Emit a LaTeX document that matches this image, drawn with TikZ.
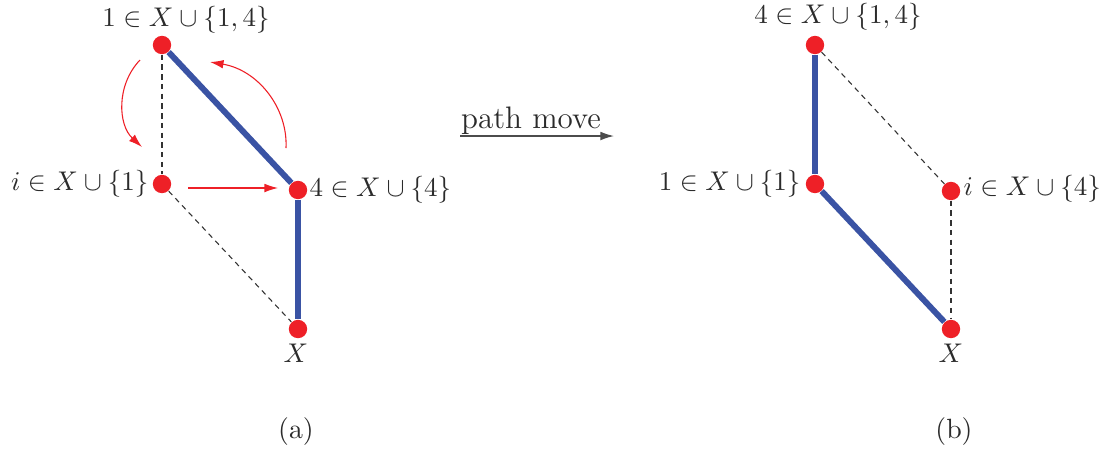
\documentclass[tikz,border=0pt]{standalone}
\usetikzlibrary{arrows.meta}
\definecolor{dotred}{HTML}{EE2027}
\definecolor{edgeblue}{HTML}{3A53A4}
\definecolor{txt}{HTML}{2B2B2B}
\tikzset{
  dot/.style={circle,fill=dotred,inner sep=0pt,minimum size=6.8pt},
  blueedge/.style={draw=edgeblue,line width=2.2pt},
  dashedge/.style={draw=black!80,line width=0.4pt,dash pattern=on 2pt off 1.6pt},
  redarrow/.style={draw=dotred,line width=0.4pt,-{Latex[length=5pt,width=3.2pt]}},
  lbl/.style={inner sep=0pt,text=txt,font=\fontsize{10.3}{12}\selectfont}
}
\begin{document}
\begin{tikzpicture}[x=0.37pt,y=-0.37pt]
\useasboundingbox (0,0) rectangle (1105,450);
% ---- left panel (a)
\node[dot] (aT) at (162,45) {};
\node[dot] (aI) at (162,184) {};
\node[dot] (aF) at (298,190) {};
\node[dot] (aX) at (298,329) {};
\draw[blueedge] (aT) -- (aF);
\draw[blueedge] (aF) -- (aX);
\draw[dashedge] (aT) -- (aI);
\draw[dashedge] (aI) -- (aX);
\node[lbl] (laT) at (186,20) {$1\in X\cup\{1,4\}$};
\node[lbl,anchor=east] (laI) at (149,184) {$i\in X\cup\{1\}$};
\node[lbl,anchor=west] (laF) at (309,190) {$4\in X\cup\{4\}$};
\node[lbl] (laX) at (296,353) {$X$};
\coordinate (r1s) at (140,60);
\coordinate (r1e) at (142,147);
\coordinate (r2s) at (286,148);
\coordinate (r2e) at (210,62);
\coordinate (r3s) at (188,188);
\coordinate (r3e) at (278,188);
\draw[redarrow] (r1s) .. controls (116,85) and (118,125) .. (r1e);
\draw[redarrow] (r2s) .. controls (288,108) and (258,70) .. (r2e);
\draw[redarrow] (r3s) -- (r3e);
% ---- middle
\node[lbl,font=\fontsize{11.5}{13}\selectfont] (pm) at (531,121) {path move};
\coordinate (ms) at (460,136);
\coordinate (me) at (614,136);
\draw[draw=black!70,line width=0.5pt,-{Latex[length=5pt,width=3.2pt]}] (ms) -- (me);
% ---- right panel (b)
\node[dot] (bT) at (815,45) {};
\node[dot] (bO) at (815,184) {};
\node[dot] (bI) at (951,191) {};
\node[dot] (bX) at (951,329) {};
\draw[blueedge] (bT) -- (bO);
\draw[blueedge] (bO) -- (bX);
\draw[dashedge] (bT) -- (bI);
\draw[dashedge] (bI) -- (bX);
\node[lbl] (lbT) at (838,17) {$4\in X\cup\{1,4\}$};
\node[lbl,anchor=east] (lbO) at (801,184) {$1\in X\cup\{1\}$};
\node[lbl,anchor=west] (lbI) at (963,189) {$i\in X\cup\{4\}$};
\node[lbl] (lbX) at (951,353) {$X$};
% ---- captions
\node[lbl] (ca) at (296,432) {(a)};
\node[lbl] (cb) at (954,432) {(b)};
\end{tikzpicture}
\end{document}
